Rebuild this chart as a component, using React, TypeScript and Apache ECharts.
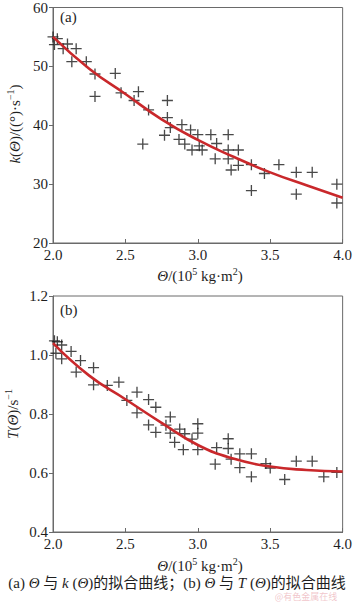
import React, { useEffect, useRef } from "react";
import * as echarts from "echarts";

// Panel (a): k(Θ) measurements
const kTheta = [2.0, 2.03, 2.01, 2.07, 2.1, 2.16, 2.13, 2.23, 2.29, 2.29, 2.43, 2.47, 2.56, 2.59, 2.62, 2.66, 2.79, 2.79, 2.81, 2.77, 2.89, 2.87, 2.91, 2.95, 2.96, 3.0, 3.01, 3.03, 3.09, 3.13, 3.12, 3.21, 3.21, 3.21, 3.23, 3.28, 3.28, 3.37, 3.37, 3.46, 3.56, 3.68, 3.68, 3.79, 3.96, 3.96];
const kValue = [55.0, 54.7, 53.7, 53.0, 53.8, 53.0, 50.8, 50.8, 48.7, 44.9, 48.8, 45.5, 44.2, 45.7, 36.8, 42.6, 44.2, 41.3, 39.6, 38.3, 40.1, 37.6, 36.8, 39.2, 35.8, 38.4, 36.5, 35.8, 38.4, 36.9, 34.3, 38.4, 35.8, 34.3, 32.4, 35.8, 33.2, 33.3, 28.9, 31.8, 33.3, 32.0, 28.3, 32.0, 30.0, 26.8];
// Panel (a): fitted curve
const kFitTheta = [2.0, 2.25, 2.5, 2.75, 3.0, 3.25, 3.5, 3.75, 4.0];
const kFitValue = [55.0, 49.6, 45.3, 41.0, 37.5, 34.6, 32.0, 29.8, 27.7];

// Panel (b): T(Θ) measurements
const tTheta = [2.01, 2.03, 2.02, 2.06, 2.06, 2.125, 2.19, 2.16, 2.28, 2.28, 2.375, 2.455, 2.51, 2.58, 2.58, 2.66, 2.71, 2.66, 2.71, 2.81, 2.78, 2.81, 2.84, 2.875, 2.91, 2.9, 2.96, 3.0, 3.0, 3.0, 3.13, 3.12, 3.21, 3.21, 3.23, 3.29, 3.29, 3.37, 3.37, 3.47, 3.5, 3.6, 3.68, 3.79, 3.87, 3.96];
const tValue = [1.048, 1.045, 1.006, 1.034, 0.987, 1.012, 0.981, 0.942, 0.957, 0.899, 0.897, 0.908, 0.846, 0.874, 0.804, 0.849, 0.823, 0.763, 0.738, 0.790, 0.762, 0.735, 0.704, 0.749, 0.733, 0.679, 0.715, 0.767, 0.735, 0.679, 0.686, 0.630, 0.716, 0.683, 0.647, 0.665, 0.618, 0.665, 0.587, 0.632, 0.617, 0.578, 0.640, 0.640, 0.587, 0.602];
// Panel (b): fitted curve
const tFitTheta = [2.0, 2.25, 2.5, 2.75, 3.0, 3.25, 3.5, 3.75, 4.0];
const tFitValue = [1.04, 0.93, 0.85, 0.77, 0.695, 0.648, 0.622, 0.61, 0.605];

const xTicks = ["2.0", "2.5", "3.0", "3.5", "4.0"];

const SERIF = "Liberation Serif";
const MIXED = "Liberation Serif, Noto Sans CJK SC";
const PLUS = "path://M0,4.4H10V5.6H0ZM4.4,0H5.6V10H4.4Z";
const AXIS_COLOR = "#6a6a6a";
const TEXT_COLOR = "#1e1e1e";
const RED = "#c9282b";

const zip = (a: number[], b: number[]) => a.map((v, i) => [v, b[i]]);

const rich = (size: number, family: string, lh: number) => ({
  n: { fontSize: size, fontFamily: family, fill: TEXT_COLOR, lineHeight: lh },
  i: { fontSize: size, fontFamily: family, fontStyle: "italic", fill: TEXT_COLOR, lineHeight: lh },
  s: { fontSize: 10, fontFamily: family, fill: TEXT_COLOR, lineHeight: 10, verticalAlign: "top" },
});

function textEl(text: string, x: number, y: number, size: number, family: string, rotation = 0, align = "center", lh = 20) {
  return {
    type: "text",
    x,
    y,
    rotation,
    style: {
      text,
      rich: rich(size, family, lh),
      fontSize: size,
      fontFamily: family,
      fill: TEXT_COLOR,
      align,
      verticalAlign: "middle",
      lineHeight: lh,
    },
  };
}

export default function App() {
  const ref = useRef<HTMLDivElement>(null);
  useEffect(() => {
    if (!ref.current) return;
    const chart = echarts.init(ref.current, undefined, { renderer: "svg" });
    const xAxisBase = (gridIndex: number) => ({
      type: "value",
      gridIndex,
      min: 2,
      max: 4,
      interval: 0.5,
      axisLine: { show: true, onZero: false, lineStyle: { color: AXIS_COLOR, width: 1 } },
      axisTick: { show: true, inside: true, length: 4, lineStyle: { color: AXIS_COLOR } },
      splitLine: { show: false },
      axisLabel: {
        margin: 4,
        fontSize: 15,
        fontFamily: SERIF,
        color: TEXT_COLOR,
        formatter: (v: number) => xTicks[Math.round((v - 2) / 0.5)] ?? "",
      },
    });
    const yAxisBase = (gridIndex: number, min: number, max: number, interval: number, digits: number) => ({
      type: "value",
      gridIndex,
      min,
      max,
      interval,
      axisLine: { show: true, onZero: false, lineStyle: { color: AXIS_COLOR, width: 1 } },
      axisTick: { show: true, inside: false, length: 4, lineStyle: { color: AXIS_COLOR } },
      splitLine: { show: false },
      axisLabel: {
        margin: 5,
        fontSize: 15,
        fontFamily: SERIF,
        color: TEXT_COLOR,
        formatter: (v: number) => v.toFixed(digits),
      },
    });

    chart.setOption({
      animation: false,
      backgroundColor: "#ffffff",
      grid: [
        { left: 53, width: 294, top: 6, height: 237, show: true, borderColor: AXIS_COLOR, borderWidth: 1, backgroundColor: "transparent" },
        { left: 53, width: 294, top: 296, height: 236, show: true, borderColor: AXIS_COLOR, borderWidth: 1, backgroundColor: "transparent" },
      ],
      xAxis: [xAxisBase(0), xAxisBase(1)],
      yAxis: [yAxisBase(0, 20, 60, 10, 0), yAxisBase(1, 0.4, 1.2, 0.2, 1)],
      series: [
        {
          type: "scatter",
          xAxisIndex: 0,
          yAxisIndex: 0,
          data: zip(kTheta, kValue),
          symbol: PLUS,
          symbolSize: 11,
          itemStyle: { color: "#1c1c1c" },
        },
        {
          type: "line",
          xAxisIndex: 0,
          yAxisIndex: 0,
          data: zip(kFitTheta, kFitValue),
          smooth: true,
          showSymbol: false,
          lineStyle: { color: RED, width: 2.6 },
        },
        {
          type: "scatter",
          xAxisIndex: 1,
          yAxisIndex: 1,
          data: zip(tTheta, tValue),
          symbol: PLUS,
          symbolSize: 11,
          itemStyle: { color: "#1c1c1c" },
        },
        {
          type: "line",
          xAxisIndex: 1,
          yAxisIndex: 1,
          data: zip(tFitTheta, tFitValue),
          smooth: true,
          showSymbol: false,
          lineStyle: { color: RED, width: 2.6 },
        },
      ],
      graphic: [
        textEl("{n|(a)}", 60, 17, 15, SERIF, 0, "left"),
        textEl("{n|(b)}", 60, 310, 15, SERIF, 0, "left"),
        textEl("{i|k}{n|(}{i|Θ}{n|)/((°)·s}{s|−1}{n|)}", 15, 124, 15, SERIF, Math.PI / 2),
        textEl("{i|T}{n|(}{i|Θ}{n|)/s}{s|−1}", 13, 414, 15, SERIF, Math.PI / 2),
        textEl("{i|Θ}{n|/(10}{s|5}{n| kg·m}{s|2}{n|)}", 200, 276, 15, SERIF),
        textEl("{i|Θ}{n|/(10}{s|5}{n| kg·m}{s|2}{n|)}", 200, 566, 15, SERIF),
        textEl("{n|(a) }{i|Θ}{n| 与 }{i|k}{n| (}{i|Θ}{n|)的拟合曲线；(b) }{i|Θ}{n| 与 }{i|T}{n| (}{i|Θ}{n|)的拟合曲线}", 177, 583, 15, MIXED, 0, "center", 16),
        {
          type: "text",
          x: 306,
          y: 596,
          style: {
            text: "@有色金属在线",
            fontSize: 9,
            lineHeight: 10,
            fontFamily: "Noto Sans CJK SC",
            fill: "rgba(232,160,168,0.6)",
            align: "center",
            verticalAlign: "middle",
          },
        },
      ],
    });
    return () => chart.dispose();
  }, []);
  return (
    <div
      ref={ref}
      style={{ position: "absolute", left: 0, top: 0, width: 355, height: 602, background: "#fff" }}
    />
  );
}
